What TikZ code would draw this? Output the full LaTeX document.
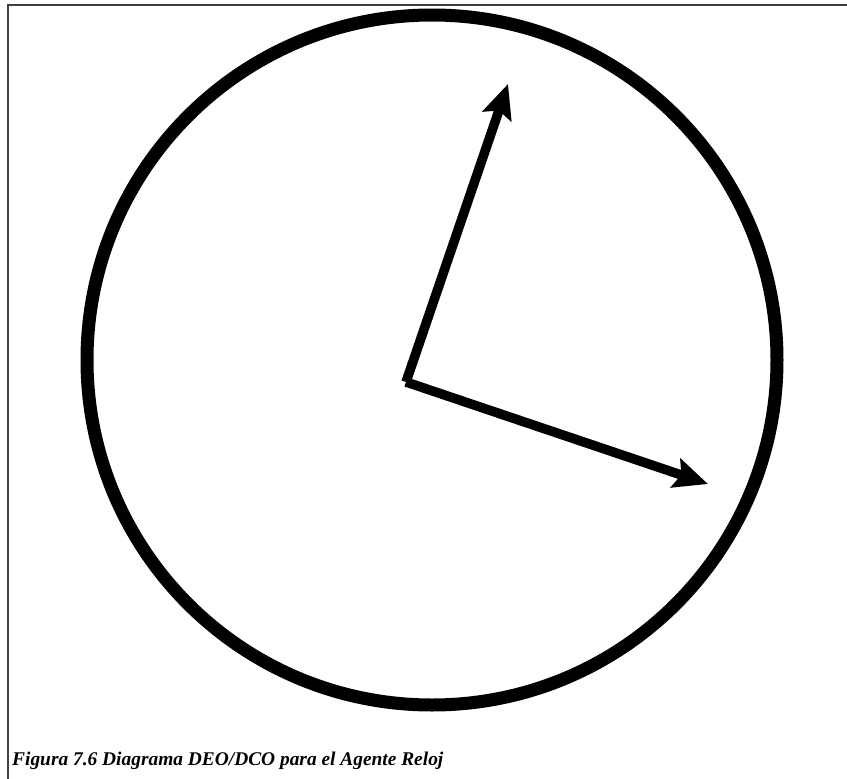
\documentclass[tikz,border=0pt]{standalone}
\usepackage{fontspec}
\setmainfont{Liberation Serif}
\usetikzlibrary{arrows.meta}

\begin{document}
\begin{tikzpicture}[x=1pt,y=-1pt]
  \useasboundingbox (0,0) rectangle (847,779);
  \coordinate (O) at (432, 360);
  \coordinate (C) at (406, 382);
  \coordinate (H) at (508, 84);
  \coordinate (M) at (708, 484);
  \coordinate (F1) at (8, 779);
  \coordinate (F2) at (8, 5);
  \coordinate (F3) at (847, 5);

  \draw[line width=2pt, black!75] (F1) -- (F2) -- (F3);
  \draw[line width=13pt] (O) circle (345);
  \draw[line width=9.5pt, line join=miter, -{Stealth[length=34pt,width=30pt,inset=6pt]}] (C) -- (H);
  \draw[line width=9.5pt, line join=miter, -{Stealth[length=34pt,width=30pt,inset=6pt]}] (C) -- (M);
  \node[anchor=base west, font=\fontsize{19.4}{22}\selectfont\bfseries\itshape, inner sep=0pt] (cap) at (12, 765)
    {Figura 7.6 Diagrama DEO/DCO para el Agente Reloj};
\end{tikzpicture}
\end{document}
